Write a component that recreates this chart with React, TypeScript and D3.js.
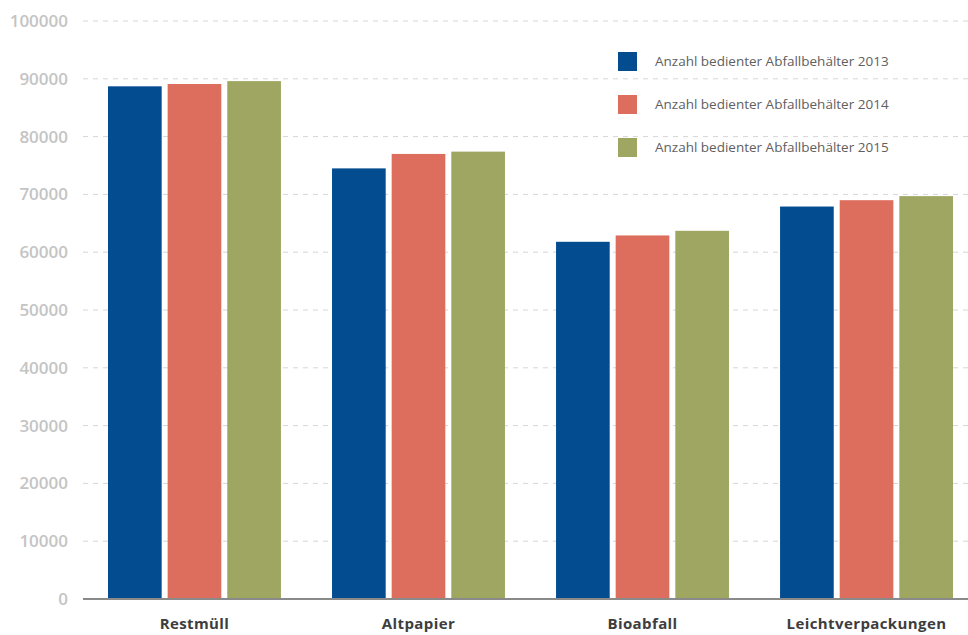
import React from "react";
import * as d3 from "d3";

const categories = ["Restmüll", "Altpapier", "Bioabfall", "Leichtverpackungen"];
const seriesNames = [
  "Anzahl bedienter Abfallbehälter 2013",
  "Anzahl bedienter Abfallbehälter 2014",
  "Anzahl bedienter Abfallbehälter 2015",
];
const values2013 = [88700, 74500, 61800, 67900];
const values2014 = [89100, 77000, 62900, 69000];
const values2015 = [89600, 77400, 63700, 69700];
const seriesValues = [values2013, values2014, values2015];
const seriesColors = ["#024c8f", "#dd6e5d", "#9ea662"];
const yTicks = [0, 10000, 20000, 30000, 40000, 50000, 60000, 70000, 80000, 90000, 100000];

const W = 968;
const H = 635;
const FONT = "'Open Sans', 'DejaVu Sans', sans-serif";

export default function App() {
  const y = d3.scaleLinear().domain([0, 100000]).range([599, 21]);
  const x0 = d3.scaleBand<string>().domain(categories).range([108, 953]).paddingInner(0.228).paddingOuter(0);
  const x1 = d3
    .scaleBand<string>()
    .domain(seriesNames)
    .range([0, x0.bandwidth()])
    .paddingInner(0.1)
    .paddingOuter(0);

  return (
    <div style={{ position: "fixed", left: 0, top: 0, width: W, height: H, overflow: "hidden" }}>
      <svg width={W} height={H} style={{ display: "block", background: "#fff" }} fontFamily={FONT}>
        {/* gridlines and y tick labels */}
        {yTicks.map((t) => (
          <g key={t}>
            {t > 0 && (
              <line
                x1={83}
                x2={W}
                y1={y(t)}
                y2={y(t)}
                stroke="#d6d6d6"
                strokeWidth={1}
                strokeDasharray="5,5"
              />
            )}
            <text
              x={68}
              y={y(t)}
              dy="0.35em"
              textAnchor="end"
              fontSize={17}
              fontWeight={600}
              fill="#c4c4c4"
            >
              {t}
            </text>
          </g>
        ))}

        {/* bars */}
        {categories.map((c, ci) => (
          <g key={c} transform={`translate(${x0(c)},0)`}>
            {seriesNames.map((s, si) => {
              const v = seriesValues[si][ci];
              return (
                <rect
                  key={s}
                  x={x1(s)}
                  y={y(v)}
                  width={x1.bandwidth()}
                  height={y(0) - y(v)}
                  fill={seriesColors[si]}
                />
              );
            })}
          </g>
        ))}

        {/* baseline */}
        <line x1={83} x2={W} y1={y(0)} y2={y(0)} stroke="#8a8a8a" strokeWidth={2} />

        {/* category labels */}
        {categories.map((c) => (
          <text
            key={c}
            x={(x0(c) as number) + x0.bandwidth() / 2}
            y={624}
            dy="0.35em"
            textAnchor="middle"
            fontSize={15}
            fontWeight={700}
            letterSpacing={0.4}
            fill="#3d3d3d"
          >
            {c}
          </text>
        ))}

        {/* legend */}
        {seriesNames.map((s, i) => (
          <g key={s} transform={`translate(618,${52 + i * 43})`}>
            <rect width={19} height={19} fill={seriesColors[i]} />
            <text x={37} y={9.5} dy="0.35em" fontSize={13.5} fill="#606060">
              {s}
            </text>
          </g>
        ))}
      </svg>
    </div>
  );
}
